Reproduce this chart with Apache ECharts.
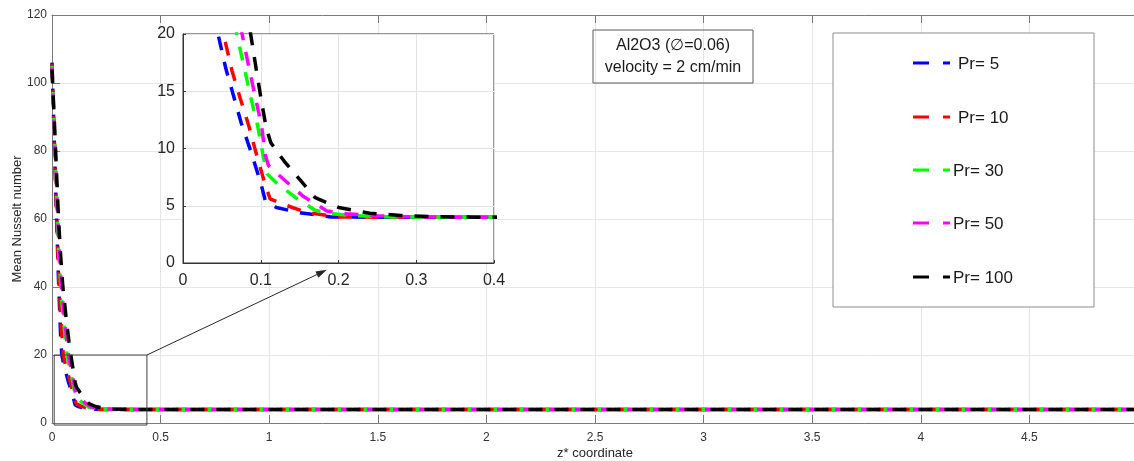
<!DOCTYPE html>
<html>
<head>
<meta charset="utf-8">
<script src="https://cdn.jsdelivr.net/npm/echarts/dist/echarts.min.js"></script>
<style>
  html, body { margin: 0; padding: 0; background: #fff; }
  #chart { width: 1134px; height: 461px; }
</style>
</head>
<body>
<div id="chart"></div>
<script>
// Mean Nusselt number along z* for Al2O3 nanofluid, one curve per Prandtl number
const seriesNames = ['Pr= 5', 'Pr= 10', 'Pr= 30', 'Pr= 50', 'Pr= 100'];
const seriesColors = ['#0000ff', '#ff0000', '#00ff00', '#ff00ff', '#000000'];

const nuPr5 = [[0,106],[0.01,84],[0.02,62],[0.03,42],[0.04,25],[0.045,20],[0.055,17],[0.065,14.6],[0.075,12.2],[0.087,9.8],[0.1,7.0],[0.106,5.4],[0.12,4.85],[0.15,4.4],[0.19,4.02],[0.25,4.0],[5,4.0]];
const nuPr10 = [[0,105.5],[0.01,85],[0.02,64],[0.03,45],[0.04,31],[0.052,20],[0.063,16.8],[0.074,14.3],[0.085,11.9],[0.094,9.6],[0.105,7.0],[0.112,5.6],[0.13,5.1],[0.16,4.4],[0.2,4.02],[0.26,4.0],[5,4.0]];
const nuPr30 = [[0,105],[0.01,87],[0.02,68],[0.03,51],[0.045,36],[0.058,27],[0.069,20],[0.079,17],[0.087,14.5],[0.096,12],[0.103,9.4],[0.108,7.8],[0.12,7.0],[0.145,5.7],[0.17,4.6],[0.19,4.3],[0.22,4.15],[0.27,4.02],[0.32,4.0],[5,4.0]];
const nuPr50 = [[0,104.5],[0.01,88],[0.02,71],[0.03,55],[0.045,39],[0.06,29],[0.076,20],[0.085,17],[0.093,14.5],[0.101,12],[0.106,9.4],[0.11,8.5],[0.128,7.4],[0.155,5.8],[0.185,4.55],[0.21,4.3],[0.25,4.12],[0.3,4.02],[0.34,4.0],[5,4.0]];
const nuPr100 = [[0,104],[0.01,90],[0.02,75],[0.03,60],[0.04,49],[0.05,40],[0.065,31],[0.078,24],[0.087,20],[0.094,17],[0.1,14.5],[0.107,11.8],[0.113,10.5],[0.13,8.9],[0.15,7.3],[0.17,5.7],[0.2,4.85],[0.24,4.35],[0.28,4.15],[0.33,4.03],[0.38,4.0],[5,4.0]];
const seriesData = [nuPr5, nuPr10, nuPr30, nuPr50, nuPr100];

// Region of the main axes that the inset enlarges
const zoomBox = [[0.01,20],[0.437,20],[0.437,-0.6],[0.01,-0.6],[0.01,20]];

const infoLines = ['Al2O3 (\u2205=0.06)', 'velocity = 2 cm/min'];

const FONT = '"Liberation Sans", Arial, Helvetica, sans-serif';
const AXIS_GRAY = '#7a7a7a';
const LABEL = '#333333';
const DASH = [14, 12];

const chart = echarts.init(document.getElementById('chart'));

function curve(i, xi, yi, z) {
  return {
    name: seriesNames[i],
    type: 'line',
    xAxisIndex: xi,
    yAxisIndex: yi,
    data: seriesData[i],
    showSymbol: false,
    symbol: 'none',
    clip: true,
    z: z,
    lineStyle: { color: seriesColors[i], width: 3.5, type: DASH, cap: 'butt' },
    animation: false
  };
}

const series = [];
for (let i = 0; i < seriesData.length; i++) series.push(curve(i, 0, 0, 2));
series.push({
  type: 'line', xAxisIndex: 0, yAxisIndex: 0, data: zoomBox,
  showSymbol: false, symbol: 'none', clip: false, z: 3,
  lineStyle: { color: '#404040', width: 1 }, animation: false
});
for (let i = 0; i < seriesData.length; i++) series.push(curve(i, 2, 1, 4));

const option = {
  animation: false,
  backgroundColor: '#ffffff',
  textStyle: { fontFamily: FONT },
  grid: [
    { left: 52, top: 15, right: -4, bottom: 38, show: false,
      containLabel: false, outerBoundsMode: 'none' },
    { left: 183, top: 34, width: 311, height: 229, show: true, z: 1,
      containLabel: false, outerBoundsMode: 'none',
      backgroundColor: '#ffffff', borderColor: '#333333', borderWidth: 1 }
  ],
  xAxis: [
    { type: 'value', gridIndex: 0, position: 'bottom', min: 0, max: 5, interval: 0.5,
      name: 'z* coordinate', nameLocation: 'middle', nameGap: 24, nameMoveOverlap: false,
      nameTextStyle: { fontSize: 13, color: '#262626', fontFamily: FONT },
      axisLine: { show: true, onZero: false, lineStyle: { color: AXIS_GRAY, width: 1 } },
      axisTick: { show: true, inside: true, length: 8, lineStyle: { color: AXIS_GRAY } },
      axisLabel: { fontSize: 12, color: LABEL, margin: 9, showMaxLabel: false, fontFamily: FONT },
      splitLine: { show: true, lineStyle: { color: '#e6e6e6', width: 1 } } },
    { type: 'value', gridIndex: 0, position: 'top', min: 0, max: 5, interval: 0.5,
      axisLine: { show: true, onZero: false, lineStyle: { color: AXIS_GRAY, width: 1 } },
      axisTick: { show: true, inside: true, length: 8, lineStyle: { color: AXIS_GRAY } },
      axisLabel: { show: false }, splitLine: { show: false } },
    { type: 'value', gridIndex: 1, position: 'bottom', min: 0, max: 0.4, interval: 0.1, z: 1,
      axisLine: { show: true, onZero: false, lineStyle: { color: '#333333', width: 1 } },
      axisTick: { show: true, inside: true, length: 3, lineStyle: { color: '#333333' } },
      axisLabel: { fontSize: 16, color: '#262626', margin: 10, fontFamily: FONT },
      splitLine: { show: true, lineStyle: { color: '#e3e3e3', width: 1 } } }
  ],
  yAxis: [
    { type: 'value', gridIndex: 0, min: 0, max: 120, interval: 20,
      name: 'Mean Nusselt number', nameLocation: 'middle', nameGap: 28, nameMoveOverlap: false,
      nameTextStyle: { fontSize: 13, color: '#262626', fontFamily: FONT },
      axisLine: { show: true, onZero: false, lineStyle: { color: AXIS_GRAY, width: 1 } },
      axisTick: { show: true, inside: true, length: 8, lineStyle: { color: AXIS_GRAY } },
      axisLabel: { fontSize: 12, color: LABEL, margin: 5, fontFamily: FONT },
      splitLine: { show: true, lineStyle: { color: '#e6e6e6', width: 1 } } },
    { type: 'value', gridIndex: 1, min: 0, max: 20, interval: 5, z: 1,
      axisLine: { show: true, onZero: false, lineStyle: { color: '#333333', width: 1 } },
      axisTick: { show: true, inside: true, length: 3, lineStyle: { color: '#333333' } },
      axisLabel: { fontSize: 16, color: '#262626', margin: 8, fontFamily: FONT },
      splitLine: { show: true, lineStyle: { color: '#e3e3e3', width: 1 } } }
  ],
  series: series
};

chart.setOption(option);

// Annotation box, legend and the arrow joining the zoom box to the inset
const graphics = [];

graphics.push({
  type: 'rect', z: 10,
  shape: { x: 593, y: 30, width: 160, height: 53 },
  style: { fill: 'rgba(0,0,0,0)', stroke: '#5a5a5a', lineWidth: 1 }
});
infoLines.forEach((t, k) => {
  graphics.push({
    type: 'text', z: 11, x: 673, y: 46 + k * 22,
    style: { text: t, font: '16px ' + FONT, fill: '#1a1a1a', align: 'center', verticalAlign: 'middle' }
  });
});

graphics.push({
  type: 'rect', z: 10,
  shape: { x: 833, y: 33, width: 261, height: 274 },
  style: { fill: '#ffffff', stroke: '#8c8c8c', lineWidth: 1 }
});
const legendRows = [63, 117, 170, 223, 277];
const legendTextX = [958, 958, 953, 953, 953];
seriesNames.forEach((nm, i) => {
  const y = legendRows[i];
  graphics.push({ type: 'line', z: 11, shape: { x1: 913, y1: y, x2: 929, y2: y },
    style: { stroke: seriesColors[i], lineWidth: 3 } });
  graphics.push({ type: 'line', z: 11, shape: { x1: 943, y1: y, x2: 950, y2: y },
    style: { stroke: seriesColors[i], lineWidth: 3 } });
  graphics.push({ type: 'text', z: 11, x: legendTextX[i], y: y + 1,
    style: { text: nm, font: '17px ' + FONT, fill: '#1a1a1a', align: 'left', verticalAlign: 'middle' } });
});

const p0 = chart.convertToPixel({ xAxisIndex: 0, yAxisIndex: 0 }, [0.437, 20]);
const p1 = chart.convertToPixel({ xAxisIndex: 2, yAxisIndex: 1 }, [0.185, -0.6]);
const ang = Math.atan2(p1[1] - p0[1], p1[0] - p0[0]);
const headLen = 11, headHalf = 3.5;
const bx = p1[0] - headLen * Math.cos(ang), by = p1[1] - headLen * Math.sin(ang);
graphics.push({ type: 'line', z: 12, shape: { x1: p0[0], y1: p0[1], x2: bx, y2: by },
  style: { stroke: '#262626', lineWidth: 1 } });
graphics.push({ type: 'polygon', z: 12,
  shape: { points: [
    [p1[0], p1[1]],
    [bx + headHalf * Math.sin(ang), by - headHalf * Math.cos(ang)],
    [bx - headHalf * Math.sin(ang), by + headHalf * Math.cos(ang)]
  ] },
  style: { fill: '#262626' } });

chart.setOption({ graphic: graphics });
</script>
</body>
</html>
